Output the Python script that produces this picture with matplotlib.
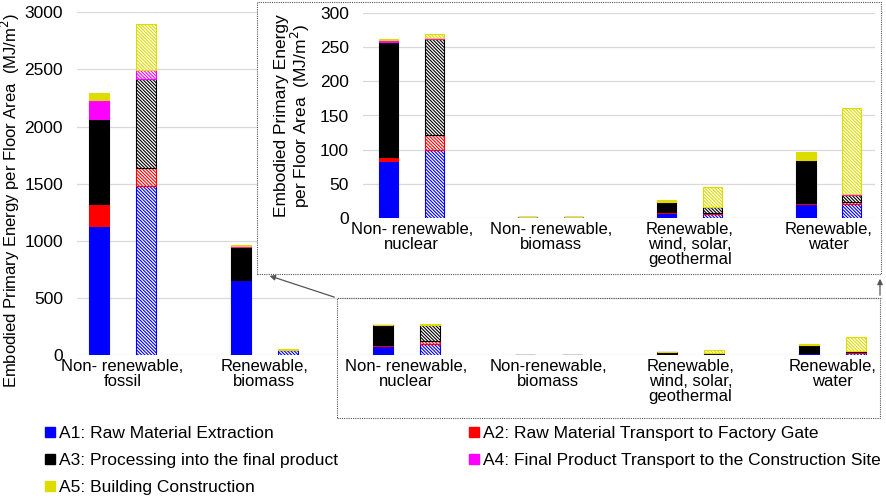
import matplotlib
matplotlib.use("Agg")
import matplotlib.pyplot as plt
from matplotlib.patches import Rectangle, FancyArrowPatch
from matplotlib.lines import Line2D

plt.rcParams['font.family'] = ['Liberation Sans', 'DejaVu Sans']
plt.rcParams['hatch.linewidth'] = 0.8

# categories (main chart) - the last four are also in the inset
categories = ["Non- renewable,\nfossil", "Renewable,\nbiomass", "Non- renewable,\nnuclear",
              "Non-renewable,\nbiomass", "Renewable,\nwind, solar,\ngeothermal", "Renewable,\nwater"]
inset_categories = ["Non- renewable,\nnuclear", "Non- renewable,\nbiomass",
                    "Renewable,\nwind, solar,\ngeothermal", "Renewable,\nwater"]

stages = ["A1: Raw Material Extraction", "A2: Raw Material Transport to Factory Gate",
          "A3: Processing into the final product", "A4: Final Product Transport to the Construction Site",
          "A5: Building Construction"]
colors = ["#0000FF", "#FF0000", "#000000", "#FF00FF", "#DCDC00"]

# first bar of each pair (solid)
a1_solid = [1131, 656, 83, 0.3, 7.5, 19.5]
a2_solid = [190, 3, 6.5, 0.2, 0.5, 1.5]
a3_solid = [749, 288, 169, 0, 14.5, 63]
a4_solid = [160, 3, 2, 1.2, 0.5, 0.5]
a5_solid = [64, 12, 1.5, 0, 2.5, 12]
# second bar of each pair (hatched)
a1_hatch = [1481, 40, 99.5, 0.3, 5, 19.5]
a2_hatch = [160, 2, 22, 0.2, 1.5, 3.5]
a3_hatch = [773, 3, 141, 0, 9, 11]
a4_hatch = [84, 1, 1, 1.2, 0.5, 0.5]
a5_hatch = [403, 6, 5.5, 0, 29, 126]

solid = [a1_solid, a2_solid, a3_solid, a4_solid, a5_solid]
hatched = [a1_hatch, a2_hatch, a3_hatch, a4_hatch, a5_hatch]

W, H = 886, 499
fig = plt.figure(figsize=(W / 100, H / 100), dpi=100)

def fx(x):
    return x / W

def fy(y):
    return 1 - y / H

def stacked(ax, pos, series, off, width, hatch):
    bottom = [0.0] * len(pos)
    for vals, c in zip(series, colors):
        if hatch:
            ax.bar([p + off for p in pos], vals, width, bottom=bottom, facecolor="white",
                   edgecolor=c, hatch="\\" * 10, linewidth=0.8, zorder=3)
        else:
            ax.bar([p + off for p in pos], vals, width, bottom=bottom, color=c,
                   edgecolor=c, linewidth=0.8, zorder=3)
        bottom = [b + v for b, v in zip(bottom, vals)]

def style(ax):
    for s in ax.spines.values():
        s.set_visible(False)
    ax.grid(axis="y", color="#d9d9d9", linewidth=0.9, zorder=0)
    ax.tick_params(length=0)
    ax.tick_params(axis="y", labelsize=12.5, pad=10)
    ax.tick_params(axis="x", labelsize=12, pad=3)

# main axes
ax = fig.add_axes([fx(77), fy(355), fx(883) - fx(77), fy(12.3) - fy(355)])
ax.set_zorder(0)
pos = list(range(len(categories)))
stacked(ax, pos, solid, -0.167, 0.141, False)
stacked(ax, pos, hatched, 0.167, 0.141, True)
ax.set_ylim(0, 3000)
ax.set_yticks(range(0, 3001, 500))
ax.set_xlim(-0.32, 5.356)
ax.set_xticks(pos)
ax.set_xticklabels(categories, linespacing=1.0)
style(ax)
ax.set_ylabel("Embodied Primary Energy per Floor Area  (MJ/m$^2$)", fontsize=12)
ax.yaxis.set_label_coords(-0.068, 0.45)

# inset box (white, dotted border)
box = Rectangle((fx(257), fy(274)), fx(881) - fx(257), fy(2) - fy(274), transform=fig.transFigure,
                facecolor="white", edgecolor="#555555", linestyle=(0, (1, 1)), linewidth=0.8, zorder=1)
fig.add_artist(box)

# lower dotted box around the small bars
low = Rectangle((fx(337), fy(418)), fx(880) - fx(337), fy(298) - fy(418), transform=fig.transFigure,
                facecolor="none", edgecolor="#555555", linestyle=(0, (1, 1)), linewidth=0.8, zorder=3)
fig.add_artist(low)

for (x0, y0), (x1, y1) in [((337, 298), (267, 275)), ((880, 298), (880, 276))]:
    arr = FancyArrowPatch((fx(x0), fy(y0)), (fx(x1), fy(y1)), transform=fig.transFigure,
                          arrowstyle="-|>", mutation_scale=8, color="#555555", linewidth=0.9, zorder=4)
    fig.add_artist(arr)

# inset axes
axi = fig.add_axes([fx(363), fy(217.7), fx(875) - fx(363), fy(13.3) - fy(217.7)])
axi.set_zorder(2)
axi.patch.set_alpha(0)
ipos = list(range(len(inset_categories)))
stacked(axi, ipos, [s[2:] for s in solid], -0.165, 0.14, False)
stacked(axi, ipos, [s[2:] for s in hatched], 0.165, 0.14, True)
axi.set_ylim(0, 300)
axi.set_yticks(range(0, 301, 50))
axi.set_xlim(-0.35, 3.333)
axi.set_xticks(ipos)
axi.set_xticklabels(inset_categories, linespacing=1.0)
style(axi)
axi.set_ylabel("Embodied Primary Energy\nper Floor Area  (MJ/m$^2$)", fontsize=12.5, labelpad=6,
               linespacing=1.0)

# legend, two columns placed separately
hs = [Line2D([], [], marker="s", linestyle="", color=c, markersize=7) for c in colors]
leg1 = fig.legend([hs[0], hs[2], hs[4]], [stages[0], stages[2], stages[4]], loc="upper left",
                  bbox_to_anchor=(fx(38), fy(419)), frameon=False, fontsize=12.5,
                  handlelength=0.6, handletextpad=0.2, labelspacing=0.68, borderaxespad=0)
leg2 = fig.legend([hs[1], hs[3]], [stages[1], stages[3]], loc="upper left",
                  bbox_to_anchor=(fx(462), fy(419)), frameon=False, fontsize=12.5,
                  handlelength=0.6, handletextpad=0.2, labelspacing=0.68, borderaxespad=0)

fig.savefig("out.png", dpi=100)
